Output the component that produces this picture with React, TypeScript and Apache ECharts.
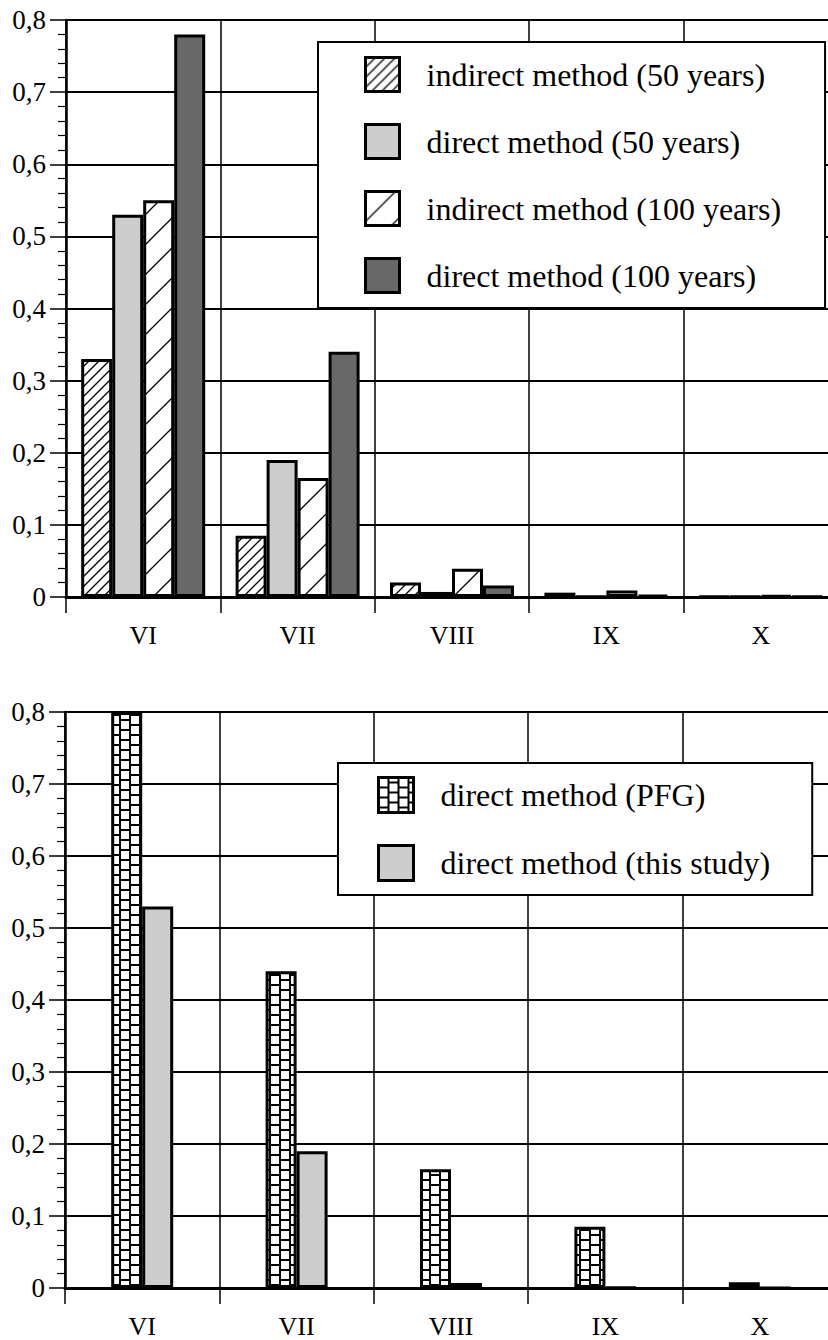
import React, { useEffect, useRef } from "react";
import * as echarts from "echarts";

// ---- data ----
const categories = ["VI", "VII", "VIII", "IX", "X"];
const yTickLabels = ["0", "0,1", "0,2", "0,3", "0,4", "0,5", "0,6", "0,7", "0,8"];

const topNames = [
  "indirect method (50 years)",
  "direct method (50 years)",
  "indirect method (100 years)",
  "direct method (100 years)",
];
const indirect50 = [0.33, 0.085, 0.02, 0.006, 0.001];
const direct50 = [0.53, 0.19, 0.007, 0.001, 0.0005];
const indirect100 = [0.55, 0.165, 0.039, 0.009, 0.002];
const direct100 = [0.78, 0.34, 0.016, 0.003, 0.001];

const bottomNames = ["direct method (PFG)", "direct method (this study)"];
const pfg = [0.8, 0.44, 0.165, 0.085, 0.008];
const thisStudy = [0.53, 0.19, 0.007, 0.001, 0];

// ---- styling helpers ----
const FONT = "Liberation Serif";

function svgPattern(w: number, h: number, body: string) {
  const svg = `<svg xmlns="http://www.w3.org/2000/svg" width="${w}" height="${h}">${body}</svg>`;
  return {
    image: "data:image/svg+xml;charset=utf-8," + encodeURIComponent(svg),
    repeat: "repeat",
    imageWidth: w,
    imageHeight: h,
  };
}

const hatchDense = svgPattern(
  10,
  10,
  `<rect width="10" height="10" fill="#fff"/><path d="M0,10 L10,0 M-2,2 L2,-2 M8,12 L12,8" stroke="#000" stroke-width="1.3"/>`
);
const hatchSparse = svgPattern(
  30,
  30,
  `<rect width="30" height="30" fill="#fff"/><path d="M0,30 L30,0 M-2,2 L2,-2 M28,32 L32,28" stroke="#000" stroke-width="1.3"/>`
);
const checker = svgPattern(
  20,
  10,
  `<rect width="20" height="10" fill="#000"/><rect x="1" y="1" width="8" height="8" fill="#fff"/><rect x="11" y="-4" width="8" height="8" fill="#fff"/><rect x="11" y="6" width="8" height="8" fill="#fff"/>`
);
const lightGray = "#cdcdcd";
const darkGray = "#686868";

function yAxis(gridIndex: number) {
  return {
    gridIndex,
    type: "value",
    min: 0,
    max: 0.8,
    interval: 0.1,
    axisLine: { show: true, lineStyle: { color: "#000", width: 2.5 } },
    axisTick: { show: true, length: 16, lineStyle: { color: "#000", width: 1.5 } },
    minorTick: { show: true, splitNumber: 5, length: 8, lineStyle: { color: "#000", width: 1.2 } },
    splitLine: { show: true, lineStyle: { color: "#000", width: 1.8 } },
    axisLabel: {
      formatter: (v: number) => yTickLabels[Math.round(v * 10)],
      fontSize: 27,
      fontFamily: FONT,
      color: "#000",
      margin: 20,
    },
  };
}

function xAxis(gridIndex: number) {
  return {
    gridIndex,
    type: "category",
    data: categories,
    boundaryGap: true,
    axisLine: { show: true, lineStyle: { color: "#000", width: 3 } },
    axisTick: { show: true, interval: 0, length: 16, lineStyle: { color: "#000", width: 1.5 } },
    splitLine: { show: true, interval: 0, lineStyle: { color: "#000", width: 1.5 } },
    axisLabel: { interval: 0, fontSize: 26, lineHeight: 26, fontFamily: FONT, color: "#000", margin: 25 },
  };
}

function barSeries(name: string, data: number[], color: any, idx: number) {
  return {
    type: "bar",
    name,
    data,
    xAxisIndex: idx,
    yAxisIndex: idx,
    barWidth: 31,
    barGap: "0%",
    silent: true,
    emphasis: { disabled: true },
    itemStyle: { color, borderColor: "#000", borderWidth: 3 },
  };
}

function legend(names: string[], left: number, top: number, padding: number[], gap: number, icon: number) {
  return {
    data: names,
    orient: "vertical",
    left,
    top,
    padding,
    itemGap: gap,
    itemWidth: icon,
    itemHeight: icon,
    icon: "rect",
    selectedMode: false,
    backgroundColor: "#fff",
    borderColor: "#000",
    borderWidth: 2,
    itemStyle: { borderColor: "#000", borderWidth: 3 },
    textStyle: {
      fontSize: 32,
      fontFamily: FONT,
      color: "#000",
      lineHeight: icon,
      padding: [0, 0, 0, 22],
    },
  };
}

export default function App() {
  const ref = useRef<HTMLDivElement>(null);
  useEffect(() => {
    if (!ref.current) return;
    const chart = echarts.init(ref.current, null, { renderer: "svg" });
    chart.setOption({
      animation: false,
      backgroundColor: "#fff",
      grid: [
        { left: 66, top: 20, width: 772, height: 577, containLabel: false, outerBoundsMode: "none" },
        { left: 65, top: 712, width: 772, height: 576, containLabel: false, outerBoundsMode: "none" },
      ],
      xAxis: [xAxis(0), xAxis(1)],
      yAxis: [yAxis(0), yAxis(1)],
      legend: [
        legend(topNames, 318, 42, [14, 44, 14, 46], 30, 34),
        legend(bottomNames, 338, 763, [13, 42, 13, 39], 30, 35),
      ],
      series: [
        barSeries(topNames[0], indirect50, hatchDense, 0),
        barSeries(topNames[1], direct50, lightGray, 0),
        barSeries(topNames[2], indirect100, hatchSparse, 0),
        barSeries(topNames[3], direct100, darkGray, 0),
        barSeries(bottomNames[0], pfg, checker, 1),
        barSeries(bottomNames[1], thisStudy, lightGray, 1),
      ],
    });
    return () => chart.dispose();
  }, []);
  return (
    <div
      ref={ref}
      style={{ position: "absolute", left: 0, top: 0, width: 828, height: 1340, background: "#fff" }}
    />
  );
}
